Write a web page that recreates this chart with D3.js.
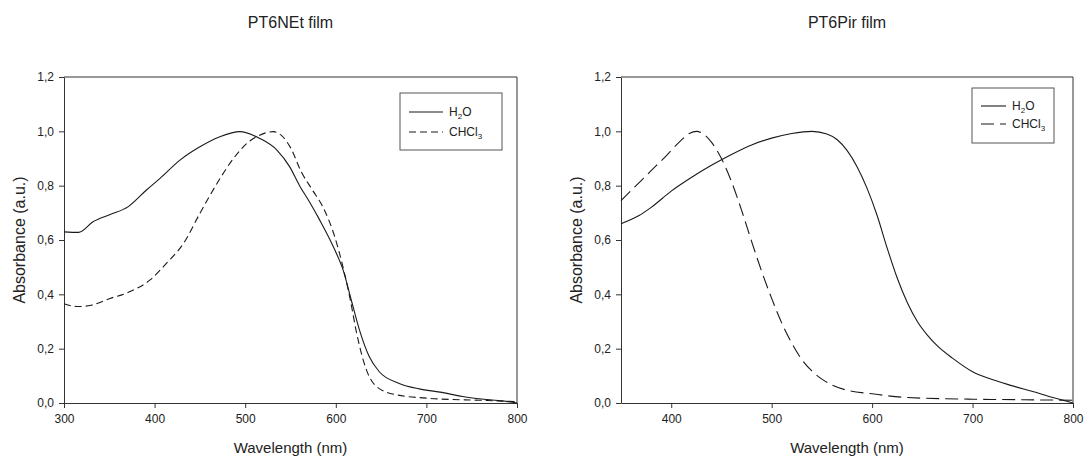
<!DOCTYPE html>
<html>
<head>
<meta charset="utf-8">
<script src="https://cdn.jsdelivr.net/npm/d3@7"></script>
<style>
  body { margin: 0; background: #fff; }
  text { font-family: "Liberation Sans", Arial, sans-serif; fill: #222; }
</style>
</head>
<body>
<div id="chart"></div>
<script>
// ---- data ----
const absTicks = [0, 0.2, 0.4, 0.6, 0.8, 1.0, 1.2];
const leftWaveTicks = [300, 400, 500, 600, 700, 800];
const rightWaveTicks = [400, 500, 600, 700, 800];

// PT6NEt film
const netH2OWave = [300, 316, 332, 351, 371, 391, 406, 428, 450, 472, 494, 516, 535, 549, 560, 571, 582, 599, 608, 617, 626, 637, 648, 670, 692, 715, 740, 766, 788, 800];
const netH2OAbs  = [0.63, 0.628, 0.667, 0.694, 0.723, 0.784, 0.827, 0.894, 0.943, 0.98, 0.999, 0.974, 0.931, 0.87, 0.80, 0.74, 0.675, 0.563, 0.49, 0.38, 0.27, 0.17, 0.115, 0.072, 0.052, 0.04, 0.024, 0.013, 0.006, 0.0];
const netCHCl3Wave = [300, 315, 330, 351, 373, 395, 413, 432, 450, 469, 487, 502, 516, 531, 540, 550, 562, 574, 586, 599, 608, 616, 623, 634, 645, 667, 704, 759, 800];
const netCHCl3Abs  = [0.365, 0.355, 0.36, 0.385, 0.41, 0.453, 0.514, 0.588, 0.698, 0.809, 0.90, 0.956, 0.986, 0.999, 0.985, 0.94, 0.85, 0.785, 0.72, 0.61, 0.50, 0.38, 0.257, 0.12, 0.06, 0.03, 0.017, 0.01, 0.005];

// PT6Pir film
const pirH2OWave = [350, 368, 380, 400, 420, 440, 460, 480, 500, 520, 540, 555, 565, 575, 585, 595, 605, 615, 625, 635, 645, 655, 665, 680, 700, 718, 740, 760, 780, 800];
const pirH2OAbs  = [0.66, 0.69, 0.72, 0.78, 0.83, 0.875, 0.915, 0.95, 0.975, 0.992, 1.0, 0.99, 0.97, 0.93, 0.87, 0.79, 0.69, 0.57, 0.46, 0.37, 0.30, 0.25, 0.21, 0.165, 0.115, 0.088, 0.063, 0.042, 0.02, 0.0];
const pirCHCl3Wave = [350, 365, 380, 395, 408, 418, 425, 432, 440, 450, 460, 470, 480, 490, 500, 510, 520, 530, 540, 550, 560, 575, 600, 635, 700, 750, 800];
const pirCHCl3Abs  = [0.745, 0.80, 0.855, 0.91, 0.96, 0.992, 1.0, 0.99, 0.96, 0.9, 0.815, 0.71, 0.595, 0.485, 0.385, 0.295, 0.22, 0.16, 0.118, 0.088, 0.066, 0.047, 0.034, 0.02, 0.014, 0.012, 0.01];

const panels = [
  { title: "PT6NEt film", left: 64, right: 517, xDomain: [300, 800], xTicks: leftWaveTicks,
    series: [[netH2OWave, netH2OAbs, null], [netCHCl3Wave, netCHCl3Abs, "7,4"]],
    legend: { x: 400, y: 93, w: 102, h: 57, sample: 34, rows: [112, 132] } },
  { title: "PT6Pir film", left: 621, right: 1073, xDomain: [350, 800], xTicks: rightWaveTicks,
    series: [[pirH2OWave, pirH2OAbs, null], [pirCHCl3Wave, pirCHCl3Abs, "13,6"]],
    legend: { x: 972, y: 88, w: 82, h: 55, sample: 25, rows: [106, 124] } }
];

const plotTop = 77, plotBottom = 403;
const svg = d3.select("#chart").append("svg")
  .attr("width", 1086).attr("height", 457);

panels.forEach(p => {
  const x = d3.scaleLinear().domain(p.xDomain).range([p.left, p.right]);
  const y = d3.scaleLinear().domain([0, 1.2]).range([plotBottom, plotTop]);
  const g = svg.append("g");

  // title
  g.append("text")
    .attr("x", (p.left + p.right) / 2).attr("y", 28)
    .attr("text-anchor", "middle")
    .style("font-size", "16px")
    .text(p.title);

  // axes
  const xAxis = g.append("g")
    .attr("transform", `translate(0,${plotBottom})`)
    .call(d3.axisBottom(x).tickValues(p.xTicks).tickSize(5).tickSizeOuter(0).tickPadding(6));
  const yAxis = g.append("g")
    .attr("transform", `translate(${p.left},0)`)
    .call(d3.axisLeft(y).tickValues(absTicks).tickSize(5).tickSizeOuter(0).tickPadding(5)
      .tickFormat(d => d.toFixed(1).replace(".", ",")));
  [xAxis, yAxis].forEach(a => {
    a.selectAll("path, line").attr("stroke", "#333");
    a.selectAll("text").style("font-size", "12px").attr("fill", "#222");
  });

  // frame top and right
  g.append("line").attr("x1", p.left).attr("x2", p.right).attr("y1", plotTop).attr("y2", plotTop).attr("stroke", "#333");
  g.append("line").attr("x1", p.right).attr("x2", p.right).attr("y1", plotTop).attr("y2", plotBottom).attr("stroke", "#333");

  // axis titles
  g.append("text")
    .attr("x", (p.left + p.right) / 2).attr("y", 453)
    .attr("text-anchor", "middle")
    .style("font-size", "15px")
    .text("Wavelength (nm)");
  g.append("text")
    .attr("transform", `translate(${p.left - 39},${(plotTop + plotBottom) / 2}) rotate(-90)`)
    .attr("text-anchor", "middle")
    .style("font-size", "16px")
    .text("Absorbance (a.u.)");

  // curves
  const line = d3.line().x(d => x(d[0])).y(d => y(d[1])).curve(d3.curveMonotoneX);
  p.series.forEach(([wave, abs, dash]) => {
    g.append("path")
      .datum(wave.map((w, i) => [w, abs[i]]))
      .attr("d", line)
      .attr("fill", "none")
      .attr("stroke", "#1a1a1a")
      .attr("stroke-width", 1.1)
      .attr("stroke-dasharray", dash);
  });

  // legend
  const L = p.legend;
  g.append("rect").attr("x", L.x).attr("y", L.y).attr("width", L.w).attr("height", L.h)
    .attr("fill", "#fff").attr("stroke", "#555");
  const labels = [["H", "2", "O"], ["CHCl", "3", ""]];
  p.series.forEach(([, , dash], i) => {
    const ry = L.rows[i];
    g.append("line").attr("x1", L.x + 9).attr("x2", L.x + 9 + L.sample)
      .attr("y1", ry).attr("y2", ry)
      .attr("stroke", "#1a1a1a").attr("stroke-width", 1.1).attr("stroke-dasharray", dash);
    const t = g.append("text").attr("x", L.x + 15 + L.sample).attr("y", ry + 4).style("font-size", "12px");
    t.append("tspan").text(labels[i][0]);
    t.append("tspan").attr("dy", 3).style("font-size", "8px").text(labels[i][1]);
    t.append("tspan").attr("dy", -3).text(labels[i][2]);
  });
});
</script>
</body>
</html>
